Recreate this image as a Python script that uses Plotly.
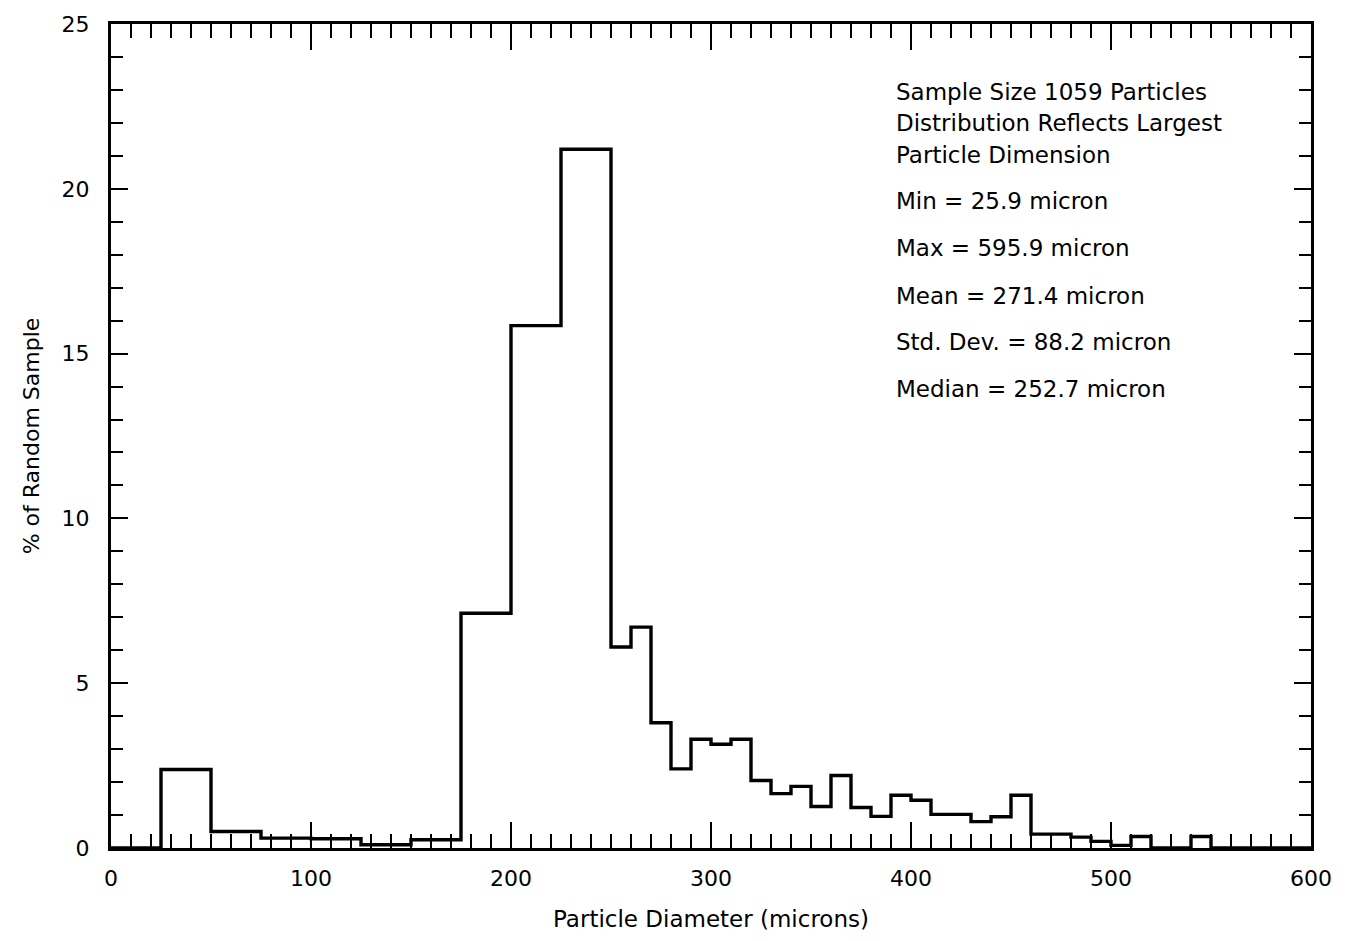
import plotly.graph_objects as go

# Bin edges (microns) and % of random sample in each bin
bin_edges = [0, 25, 50, 75, 100, 125, 150, 175, 200, 225, 250,
             260, 270, 280, 290, 300, 310, 320, 330, 340, 350,
             360, 370, 380, 390, 400, 410, 420, 430, 440, 450,
             460, 470, 480, 490, 500, 510, 520, 530, 540, 550, 600]
bin_pct = [0, 2.38, 0.5, 0.3, 0.28, 0.1, 0.25, 7.12, 15.85, 21.2,
           6.1, 6.7, 3.8, 2.4, 3.3, 3.15, 3.3, 2.05, 1.65, 1.87,
           1.26, 2.2, 1.23, 0.96, 1.6, 1.45, 1.02, 1.02, 0.8, 0.95,
           1.6, 0.42, 0.42, 0.33, 0.2, 0.08, 0.35, 0, 0, 0.35, 0]

stats_lines = ["Sample Size 1059 Particles",
               "Distribution Reflects Largest",
               "Particle Dimension",
               "Min = 25.9 micron",
               "Max = 595.9 micron",
               "Mean = 271.4 micron",
               "Std. Dev. = 88.2 micron",
               "Median = 252.7 micron"]
stats_y = [22.95, 21.99, 21.04, 19.63, 18.2, 16.76, 15.34, 13.92]

FONT = "DejaVu Sans, Liberation Sans, Arial, sans-serif"

fig = go.Figure()
fig.add_trace(go.Scatter(
    x=bin_edges,
    y=bin_pct + [bin_pct[-1]],
    mode="lines",
    line=dict(shape="hv", color="black", width=3.4),
    hoverinfo="skip",
    showlegend=False,
))

for txt, yy in zip(stats_lines, stats_y):
    fig.add_annotation(x=391.5, y=yy, xref="x", yref="y", text=txt,
                       showarrow=False, xanchor="left", yanchor="middle",
                       font=dict(family=FONT, size=23, color="black"))

fig.update_layout(
    width=1354, height=941,
    margin=dict(l=111, r=43, t=17, b=91),
    paper_bgcolor="white", plot_bgcolor="white",
    font=dict(family=FONT, color="black"),
    showlegend=False,
)
fig.update_xaxes(
    range=[0, 600], dtick=100, tick0=0,
    showgrid=False, zeroline=False,
    showline=True, linecolor="black", linewidth=3, mirror="ticks",
    ticks="inside", ticklen=26, tickwidth=2, tickcolor="black",
    minor=dict(dtick=10, ticks="inside", ticklen=14, tickwidth=2, tickcolor="black", showgrid=False),
    tickfont=dict(family=FONT, size=22, color="black"),
    ticklabelstandoff=9,
    title=dict(text="Particle Diameter (microns)", font=dict(family=FONT, size=23, color="black"), standoff=21),
)
fig.update_yaxes(
    range=[0, 25], dtick=5, tick0=0,
    showgrid=False, zeroline=False,
    showline=True, linecolor="black", linewidth=3, mirror="ticks",
    ticks="inside", ticklen=17, tickwidth=2, tickcolor="black",
    minor=dict(dtick=1, ticks="inside", ticklen=12, tickwidth=2, tickcolor="black", showgrid=False),
    tickfont=dict(family=FONT, size=22, color="black"),
    ticklabelstandoff=14,
    title=dict(text="% of Random Sample", font=dict(family=FONT, size=22, color="black"), standoff=16),
)

fig.write_html("out.html")
